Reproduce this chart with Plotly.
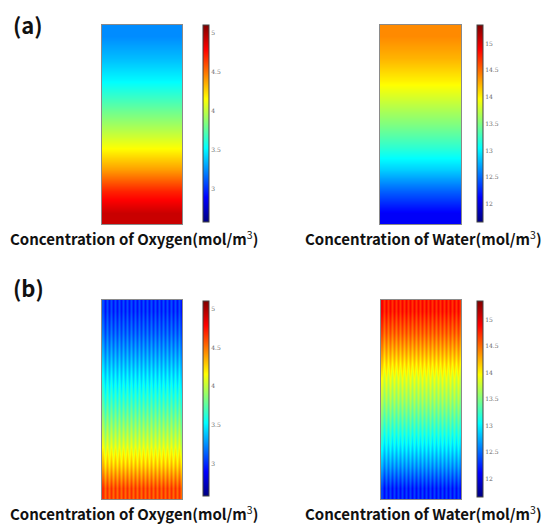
import plotly.graph_objects as go

W, H = 556, 527

# Vertical profiles (top -> bottom)
oxy_a = [3.24, 3.36, 3.51, 3.71, 3.92, 4.14, 4.39, 4.70, 4.92]
wat_a = [14.39, 14.24, 14.02, 13.76, 13.50, 13.21, 12.88, 12.47, 12.10]
oxy_b = [3.01, 3.13, 3.29, 3.46, 3.64, 3.84, 4.04, 4.29, 4.60]
wat_b = [14.80, 14.54, 14.21, 13.87, 13.62, 13.32, 13.02, 12.66, 12.25]

# channel / rib stripe offsets for (b): 20 channel-rib pairs
stripe_oxy = [0.08, -0.08]
stripe_wat = [0.11, -0.11]
n_channels = 20

oxy_range = [2.58, 5.10]
wat_range = [11.66, 15.35]
oxy_ticks = [3, 3.5, 4, 4.5, 5]
wat_ticks = [12, 12.5, 13, 13.5, 14, 14.5, 15]

jet = [[0.0, 'rgb(0,0,128)'], [0.125, 'rgb(0,0,255)'], [0.375, 'rgb(0,255,255)'],
       [0.625, 'rgb(255,255,0)'], [0.875, 'rgb(255,0,0)'], [1.0, 'rgb(128,0,0)']]


def uniform_grid(profile, ncols=4):
    return [[v] * ncols for v in profile]


def striped_grid(profile, offsets, n):
    return [[v + offsets[k % len(offsets)] for k in range(n * len(offsets))] for v in profile]


panels = [
    # (z, range, ticks, x0px, x1px, y0px(top), y1px(bottom), cbx, cb_top, cb_len)
    (uniform_grid(oxy_a), oxy_range, oxy_ticks, 102, 182, 25, 224, 203, 25, 197),
    (uniform_grid(wat_a), wat_range, wat_ticks, 380, 461, 25, 224, 477, 25, 197),
    (striped_grid(oxy_b, stripe_oxy, n_channels), oxy_range, oxy_ticks, 102, 182, 300, 499, 203, 301, 195),
    (striped_grid(wat_b, stripe_wat, n_channels), wat_range, wat_ticks, 381, 461, 300, 499, 477, 301, 196),
]

fig = go.Figure()
for i, (z, rng, ticks, x0, x1, y0, y1, cbx, cbt, cbl) in enumerate(panels):
    n = i + 1
    xa = 'x' if n == 1 else f'x{n}'
    ya = 'y' if n == 1 else f'y{n}'
    fig.add_trace(go.Heatmap(
        z=z, xaxis=xa, yaxis=ya, colorscale=jet, zmin=rng[0], zmax=rng[1],
        zsmooth='best',
        colorbar=dict(
            x=cbx / W, xanchor='left', xpad=0, ypad=0,
            y=1 - cbt / H, yanchor='top', lenmode='pixels', len=cbl,
            thicknessmode='pixels', thickness=6,
            outlinecolor='#444', outlinewidth=1,
            tickvals=ticks, ticks='',
            tickfont=dict(size=6, color='#666', family='DejaVu Serif'),
        ),
    ))
    axkey_x = 'xaxis' if n == 1 else f'xaxis{n}'
    axkey_y = 'yaxis' if n == 1 else f'yaxis{n}'
    fig.layout[axkey_x] = dict(domain=[x0 / W, x1 / W], anchor=ya, showticklabels=False,
                               showgrid=False, zeroline=False, ticks='',
                               showline=True, mirror=True, linecolor='#8a8a8a', linewidth=1)
    fig.layout[axkey_y] = dict(domain=[1 - y1 / H, 1 - y0 / H], anchor=xa, showticklabels=False,
                               showgrid=False, zeroline=False, ticks='', autorange='reversed',
                               showline=True, mirror=True, linecolor='#8a8a8a', linewidth=1)

title_font = dict(family='Noto Sans CJK KR', size=15, color='#111')
ann = [
    dict(text='<b>(a)</b>', x=11 / W, y=1 - 24 / H, xanchor='left', yanchor='middle',
         font=dict(family='Noto Sans CJK KR', size=22, color='#111')),
    dict(text='<b>(b)</b>', x=11 / W, y=1 - 287 / H, xanchor='left', yanchor='middle',
         font=dict(family='Noto Sans CJK KR', size=22, color='#111')),
    dict(text='<b>Concentration of Oxygen(mol/m</b><sup>3</sup><b>)</b>', x=134 / W, y=1 - 238 / H,
         xanchor='center', yanchor='middle', font=title_font),
    dict(text='<b>Concentration of Water(mol/m</b><sup>3</sup><b>)</b>', x=423 / W, y=1 - 238 / H,
         xanchor='center', yanchor='middle', font=title_font),
    dict(text='<b>Concentration of Oxygen(mol/m</b><sup>3</sup><b>)</b>', x=134 / W, y=1 - 513 / H,
         xanchor='center', yanchor='middle', font=title_font),
    dict(text='<b>Concentration of Water(mol/m</b><sup>3</sup><b>)</b>', x=423 / W, y=1 - 513 / H,
         xanchor='center', yanchor='middle', font=title_font),
]
for a in ann:
    a.update(xref='paper', yref='paper', showarrow=False)

fig.update_layout(width=W, height=H, margin=dict(l=0, r=0, t=0, b=0),
                  paper_bgcolor='white', plot_bgcolor='white', annotations=ann,
                  showlegend=False)

fig.write_html('out.html')
